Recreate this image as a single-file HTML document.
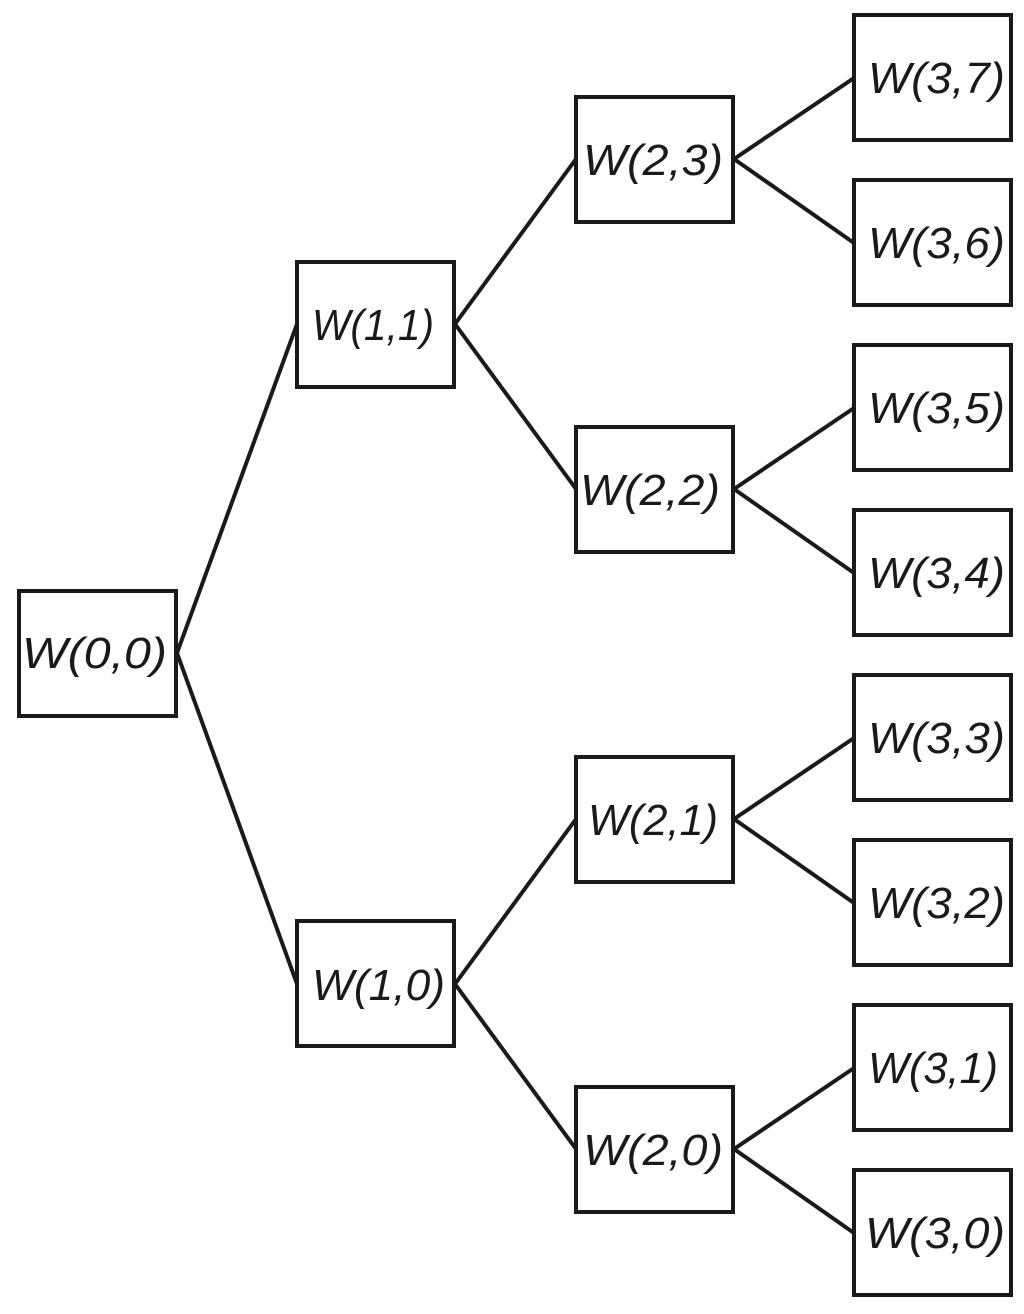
<!DOCTYPE html>
<html><head><meta charset="utf-8"><style>
html,body{margin:0;padding:0;background:#fff;}
svg{display:block;}
text{font-family:"Liberation Sans",sans-serif;font-style:italic;font-size:44px;fill:#1a1a1a;}
</style></head><body>
<svg width="1024" height="1314" viewBox="0 0 1024 1314" xmlns="http://www.w3.org/2000/svg">
<g stroke="#1a1a1a" stroke-width="4" fill="none">
<!-- lines -->
<line x1="177" y1="653" x2="297" y2="324"/>
<line x1="177" y1="653" x2="297" y2="984"/>
<line x1="455" y1="324" x2="576" y2="159"/>
<line x1="455" y1="324" x2="576" y2="489"/>
<line x1="455" y1="984" x2="576" y2="819"/>
<line x1="455" y1="984" x2="576" y2="1149"/>
<line x1="734" y1="159" x2="854" y2="78"/>
<line x1="734" y1="159" x2="854" y2="243"/>
<line x1="734" y1="489" x2="854" y2="408"/>
<line x1="734" y1="489" x2="854" y2="573"/>
<line x1="734" y1="819" x2="854" y2="738"/>
<line x1="734" y1="819" x2="854" y2="903"/>
<line x1="734" y1="1149" x2="854" y2="1068"/>
<line x1="734" y1="1149" x2="854" y2="1233"/>
<!-- boxes -->
<rect x="19" y="591" width="157" height="125"/>
<rect x="297" y="262" width="157" height="125"/>
<rect x="297" y="921" width="157" height="125"/>
<rect x="576" y="97" width="157" height="125"/>
<rect x="576" y="427" width="157" height="125"/>
<rect x="576" y="757" width="157" height="125"/>
<rect x="576" y="1087" width="157" height="125"/>
<rect x="854" y="15" width="157" height="125"/>
<rect x="854" y="180" width="157" height="125"/>
<rect x="854" y="345" width="157" height="125"/>
<rect x="854" y="510" width="157" height="125"/>
<rect x="854" y="675" width="157" height="125"/>
<rect x="854" y="840" width="157" height="125"/>
<rect x="854" y="1005" width="157" height="125"/>
<rect x="854" y="1170" width="157" height="125"/>
</g>
<g>
<text x="22" y="668" textLength="145" lengthAdjust="spacingAndGlyphs">W(0,0)</text>
<text x="312" y="340" textLength="122" lengthAdjust="spacingAndGlyphs">W(1,1)</text>
<text x="312" y="1000" textLength="133" lengthAdjust="spacingAndGlyphs">W(1,0)</text>
<text x="583" y="175" textLength="140" lengthAdjust="spacingAndGlyphs">W(2,3)</text>
<text x="580" y="505" textLength="140" lengthAdjust="spacingAndGlyphs">W(2,2)</text>
<text x="588" y="835" textLength="130" lengthAdjust="spacingAndGlyphs">W(2,1)</text>
<text x="583" y="1165" textLength="140" lengthAdjust="spacingAndGlyphs">W(2,0)</text>
<text x="868" y="93" textLength="137" lengthAdjust="spacingAndGlyphs">W(3,7)</text>
<text x="868" y="258" textLength="137" lengthAdjust="spacingAndGlyphs">W(3,6)</text>
<text x="868" y="423" textLength="137" lengthAdjust="spacingAndGlyphs">W(3,5)</text>
<text x="868" y="588" textLength="137" lengthAdjust="spacingAndGlyphs">W(3,4)</text>
<text x="868" y="753" textLength="137" lengthAdjust="spacingAndGlyphs">W(3,3)</text>
<text x="868" y="918" textLength="137" lengthAdjust="spacingAndGlyphs">W(3,2)</text>
<text x="868" y="1083" textLength="130" lengthAdjust="spacingAndGlyphs">W(3,1)</text>
<text x="865" y="1248" textLength="140" lengthAdjust="spacingAndGlyphs">W(3,0)</text>
</g>
</svg>
</body></html>
